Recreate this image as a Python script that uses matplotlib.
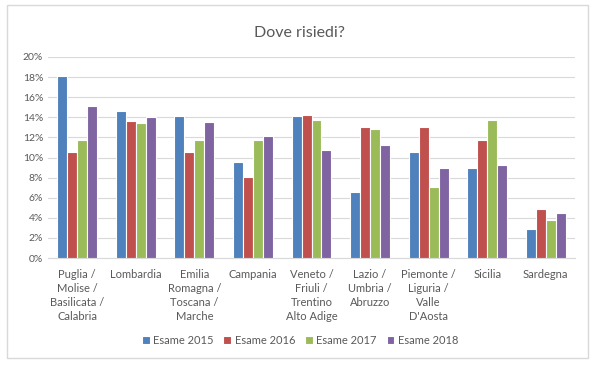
import matplotlib
matplotlib.use("Agg")
import matplotlib.pyplot as plt
import numpy as np
from matplotlib.patches import Rectangle

categories = ["Puglia /\nMolise /\nBasilicata /\nCalabria", "Lombardia",
              "Emilia\nRomagna /\nToscana /\nMarche", "Campania",
              "Veneto /\nFriuli /\nTrentino\nAlto Adige", "Lazio /\nUmbria /\nAbruzzo",
              "Piemonte /\nLiguria /\nValle\nD'Aosta", "Sicilia", "Sardegna"]
series_names = ["Esame 2015", "Esame 2016", "Esame 2017", "Esame 2018"]
esame_2015 = [18.1, 14.6, 14.1, 9.6, 14.1, 6.6, 10.5, 9.0, 2.9]
esame_2016 = [10.5, 13.6, 10.5, 8.1, 14.2, 13.0, 13.0, 11.7, 4.9]
esame_2017 = [11.7, 13.4, 11.7, 11.7, 13.7, 12.8, 7.1, 13.7, 3.8]
esame_2018 = [15.1, 14.0, 13.5, 12.1, 10.7, 11.2, 9.0, 9.3, 4.5]
yticks = [0, 2, 4, 6, 8, 10, 12, 14, 16, 18, 20]
colors = ["#4F81BD", "#C0504D", "#9BBB59", "#8064A2"]

plt.rcParams['font.family'] = ['Lato', 'DejaVu Sans']

fig = plt.figure(figsize=(6, 3.7), dpi=100)
fig.patches.append(Rectangle((7/600, 1-358/370), 581/600, 353/370, transform=fig.transFigure,
                             fill=False, edgecolor="#D9D9D9", linewidth=1))
ax = fig.add_axes([48/600, 1-258/370, (575-48)/600, (258-57)/370])

x = np.arange(len(categories))
w = 0.17
data = [esame_2015, esame_2016, esame_2017, esame_2018]
for i, (vals, c, name) in enumerate(zip(data, colors, series_names)):
    ax.bar(x + (i - 1.5) * w, vals, w, color=c, edgecolor="white", linewidth=0.8, label=name, zorder=3)

ax.set_ylim(0, 20)
ax.set_xlim(-0.5, len(categories) - 0.5)
ax.set_yticks(yticks)
ax.set_yticklabels([f"{t}%" for t in yticks])
ax.set_xticks(x)
ax.set_xticklabels(categories, linespacing=1.32)
ax.tick_params(axis="both", length=0, labelsize=7.5, colors="#595959")
ax.tick_params(axis="x", pad=8, labelsize=8)
ax.grid(axis="y", color="#D9D9D9", linewidth=0.8, zorder=0)
for s in ["top", "right", "left"]:
    ax.spines[s].set_visible(False)
ax.spines["bottom"].set_color("#D9D9D9")

fig.text(0.5, 1-33/370, "Dove risiedi?", ha="center", va="center", fontsize=11.5, color="#595959")
fig.legend(loc="center", bbox_to_anchor=(0.5, 1-340/370), ncol=4, frameon=False, fontsize=8,
           handlelength=0.7, handleheight=0.7, handletextpad=0.3, columnspacing=0.9,
           labelcolor="#595959")

fig.savefig("out.png", dpi=100)
